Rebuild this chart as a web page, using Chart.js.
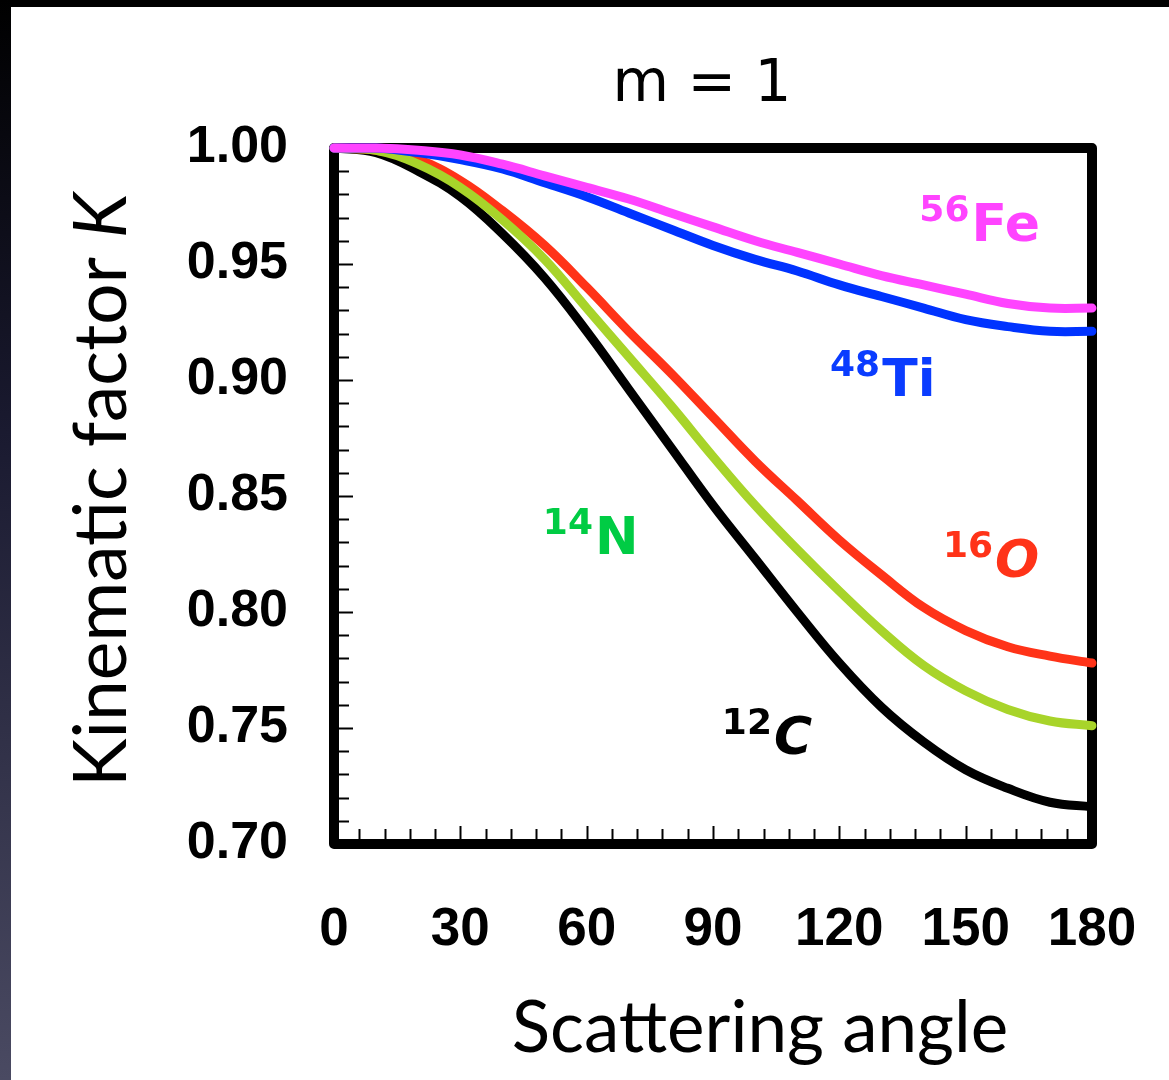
<!DOCTYPE html>
<html>
<head>
<meta charset="utf-8">
<script src="https://cdn.jsdelivr.net/npm/chart.js@4.4.0/dist/chart.umd.min.js"></script>
<style>
  html, body { margin: 0; padding: 0; background: #fff; }
  #wrap { position: relative; width: 1169px; height: 1080px; overflow: hidden; }
  #topStrip { position: absolute; left: 0; top: 0; width: 1169px; height: 7px; background: #000; }
  #leftStrip { position: absolute; left: 0; top: 0; width: 11px; height: 1080px;
    background: linear-gradient(to bottom, #000 0%, #1a1a30 40%, #4a4a62 100%); }
  canvas { position: absolute; left: 0; top: 0; }
</style>
</head>
<body>
<div id="wrap">
  <canvas id="kinChart" width="1169" height="1080"></canvas>
  <div id="topStrip"></div>
  <div id="leftStrip"></div>
</div>
<script>
// Scattering angles (degrees)
const angles = [0, 10, 20, 30, 40, 50, 60, 70, 80, 90, 100, 110, 120, 130, 140, 150, 160, 170, 180];

// Kinematic factor K, one array per target
const kC12  = [1.000, 0.998, 0.990, 0.979, 0.963, 0.944, 0.921, 0.896, 0.871, 0.846, 0.823, 0.800, 0.778, 0.759, 0.744, 0.732, 0.724, 0.718, 0.716];
const kN14  = [1.000, 0.999, 0.993, 0.983, 0.969, 0.952, 0.931, 0.910, 0.889, 0.867, 0.846, 0.827, 0.809, 0.792, 0.777, 0.766, 0.758, 0.753, 0.751];
const kO16  = [1.000, 0.999, 0.995, 0.986, 0.973, 0.958, 0.940, 0.921, 0.903, 0.884, 0.865, 0.848, 0.831, 0.816, 0.802, 0.792, 0.785, 0.781, 0.778];
const kTi48 = [1.000, 1.000, 0.998, 0.995, 0.991, 0.985, 0.979, 0.972, 0.965, 0.958, 0.952, 0.947, 0.941, 0.936, 0.931, 0.926, 0.923, 0.921, 0.921];
const kFe56 = [1.000, 1.000, 0.999, 0.997, 0.993, 0.988, 0.983, 0.978, 0.972, 0.966, 0.960, 0.955, 0.950, 0.945, 0.941, 0.937, 0.933, 0.931, 0.931];

// Axis tick values
const xTicks = [0, 30, 60, 90, 120, 150, 180];
const yTicks = [0.70, 0.75, 0.80, 0.85, 0.90, 0.95, 1.00];

// Curve labels: mass number, element symbol
const labelMass = ['56', '48', '16', '14', '12'];
const labelElem = ['Fe', 'Ti', 'O', 'N', 'C'];

const colors = {
    fe: '#ff44ff',
    ti: '#0033ff',
    o: '#ff3318',
    n: '#a8d42a',
    c: '#000000'
};

function toPoints(ys) {
    return angles.map((a, i) => ({ x: a, y: ys[i] }));
}

function lineSet(label, ys, color) {
    return {
        label: label,
        data: toPoints(ys),
        borderColor: color,
        borderWidth: 9,
        borderCapStyle: 'round',
        borderJoinStyle: 'round',
        pointRadius: 0,
        tension: 0.4,
        clip: false
    };
}

// label placement in data units (angle, K at baseline of the symbol)
const labelPlaces = [
    { x: 139.0, y: 0.960, color: '#ff44ff' },
    { x: 117.8, y: 0.893, color: '#0a3cff' },
    { x: 144.6, y: 0.815, color: '#ff3318' },
    { x: 49.6,  y: 0.825, color: '#00cc44' },
    { x: 92.1,  y: 0.739, color: '#000000' }
];

const decorPlugin = {
    id: 'decor',
    beforeDatasetsDraw(chart) {
        const { ctx, chartArea: a, scales } = chart;
        const xs = scales.x, ys = scales.y;
        ctx.save();
        // minor / major ticks pointing inward
        ctx.strokeStyle = '#000';
        ctx.lineWidth = 2;
        for (let v = 0; v <= 180; v += 6) {
            const px = Math.round(xs.getPixelForValue(v)) + 0.5;
            const len = (v % 30 === 0) ? 18 : 15;
            ctx.beginPath();
            ctx.moveTo(px, a.bottom);
            ctx.lineTo(px, a.bottom - len);
            ctx.stroke();
        }
        for (let i = 0; i <= 30; i++) {
            const v = 0.70 + i * 0.01;
            const py = Math.round(ys.getPixelForValue(v)) + 0.5;
            const len = (i % 5 === 0) ? 19 : 15;
            ctx.beginPath();
            ctx.moveTo(a.left, py);
            ctx.lineTo(a.left + len, py);
            ctx.stroke();
        }
        // heavy frame
        ctx.lineWidth = 10;
        ctx.lineJoin = 'round';
        ctx.strokeRect(a.left, a.top, a.right - a.left, a.bottom - a.top);
        ctx.restore();
    },
    afterDatasetsDraw(chart) {
        const { ctx, scales } = chart;
        ctx.save();
        ctx.textBaseline = 'alphabetic';
        ctx.textAlign = 'left';
        labelPlaces.forEach((p, i) => {
            const px = scales.x.getPixelForValue(p.x);
            const py = scales.y.getPixelForValue(p.y);
            ctx.fillStyle = p.color;
            ctx.font = 'bold 36px "DejaVu Sans"';
            ctx.fillText(labelMass[i], px, py - 20);
            const w = ctx.measureText(labelMass[i]).width;
            const slant = (labelElem[i] === 'O' || labelElem[i] === 'C') ? 'oblique ' : '';
            ctx.font = slant + 'bold 52px "DejaVu Sans"';
            ctx.fillText(labelElem[i], px + w + 2, py);
        });

        // title
        ctx.fillStyle = '#000';
        ctx.textAlign = 'center';
        ctx.font = '58px "DejaVu Sans"';
        ctx.fillText('m = 1', 702, 101);

        // x title
        ctx.font = '71px Lato';
        ctx.fillText('Scattering angle', 760, 1052);

        // y title with italic K
        ctx.translate(126, 490);
        ctx.rotate(-Math.PI / 2);
        ctx.textAlign = 'left';
        ctx.font = '73px Lato';
        const t1 = 'Kinematic factor ';
        const w1 = ctx.measureText(t1).width;
        ctx.font = 'italic 73px Lato';
        const w2 = ctx.measureText('K').width;
        const start = -(w1 + w2) / 2;
        ctx.font = '73px Lato';
        ctx.fillText(t1, start, 0);
        ctx.font = 'italic 73px Lato';
        ctx.fillText('K', start + w1, 0);
        ctx.restore();
    }
};

const ctx = document.getElementById('kinChart').getContext('2d');
const kinChart = new Chart(ctx, {
    type: 'line',
    data: {
        datasets: [
            lineSet('56Fe', kFe56, colors.fe),
            lineSet('48Ti', kTi48, colors.ti),
            lineSet('14N', kN14, colors.n),
            lineSet('16O', kO16, colors.o),
            lineSet('12C', kC12, colors.c)
        ]
    },
    options: {
        responsive: false,
        animation: false,
        devicePixelRatio: 1,
        layout: { padding: { left: 0, top: 148, right: 77, bottom: 0 } },
        plugins: {
            legend: { display: false },
            tooltip: { enabled: false },
            title: { display: false }
        },
        scales: {
            x: {
                type: 'linear',
                min: 0,
                max: 180,
                afterFit: (s) => { s.height = 236; s.paddingLeft = 0; s.paddingRight = 0; },
                afterBuildTicks: (s) => { s.ticks = xTicks.map(v => ({ value: v })); },
                grid: { display: false, drawTicks: false },
                border: { display: false },
                ticks: {
                    padding: 55,
                    color: '#000',
                    font: { family: '"Liberation Sans", Arial', size: 53, weight: 'bold' },
                    maxRotation: 0
                }
            },
            y: {
                min: 0.70,
                max: 1.00,
                afterFit: (s) => { s.width = 334; s.paddingTop = 0; s.paddingBottom = 0; },
                afterBuildTicks: (s) => { s.ticks = yTicks.map(v => ({ value: v })); },
                grid: { display: false, drawTicks: false },
                border: { display: false },
                ticks: {
                    padding: 46,
                    color: '#000',
                    font: { family: '"Liberation Sans", Arial', size: 52, weight: 'bold' },
                    callback: (v) => Number(v).toFixed(2)
                }
            }
        }
    },
    plugins: [decorPlugin]
});
</script>
</body>
</html>
